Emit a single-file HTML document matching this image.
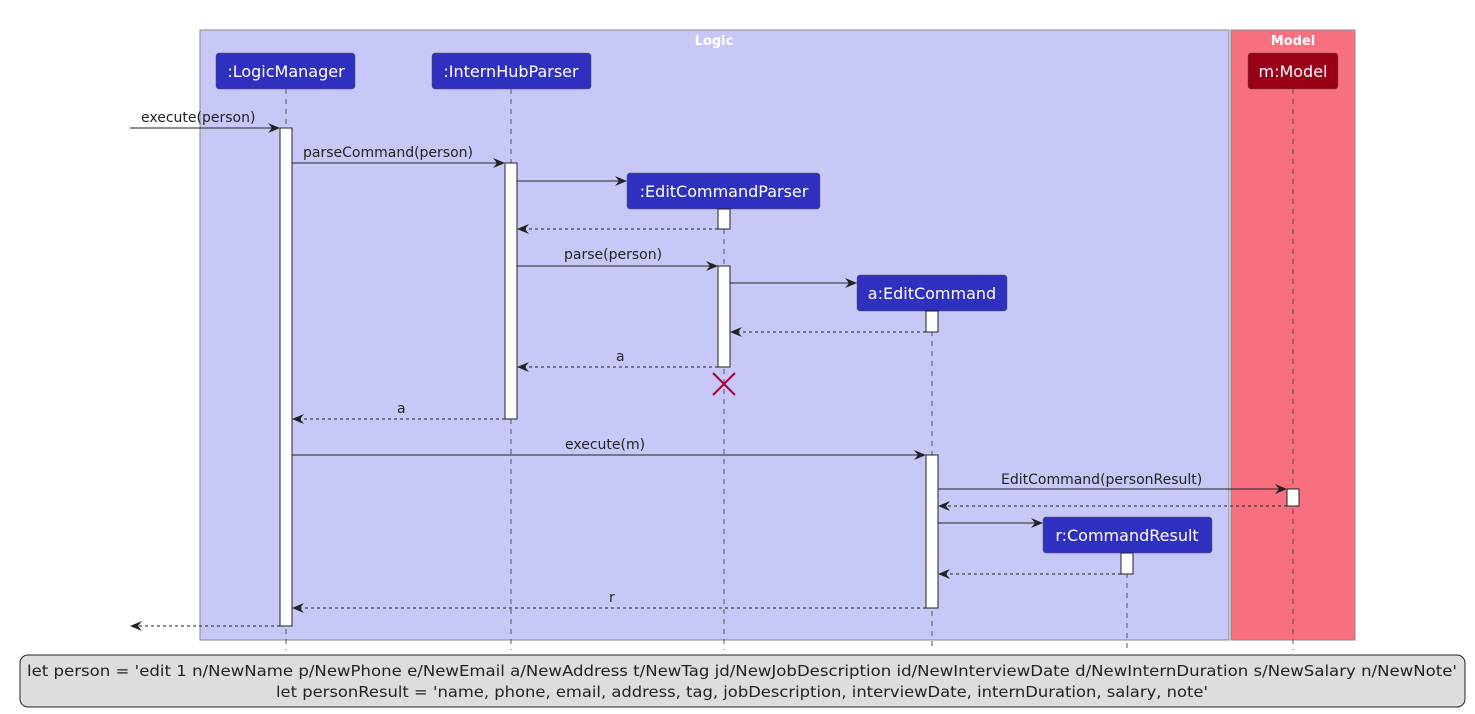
<!DOCTYPE html>
<html><head><meta charset="utf-8"><style>html,body{margin:0;padding:0;background:#fff;}svg{display:block}text{font-family:"DejaVu Sans","Liberation Sans",sans-serif;}</style></head><body>
<svg width="1475" height="714" viewBox="0 0 1475 714" xmlns="http://www.w3.org/2000/svg">
<defs><marker id="a" viewBox="0 0 12 10" refX="11" refY="5" markerWidth="12" markerHeight="10" orient="auto" markerUnits="userSpaceOnUse"><path d="M0,0 L12,5 L0,10 L4,5 Z" fill="#222"/></marker></defs>
<rect x="200" y="30" width="1029" height="610" fill="#C8C8F8" stroke="#888" stroke-width="1"/>
<rect x="1231" y="30" width="124" height="610" fill="#F87080" stroke="#888" stroke-width="1"/>
<text x="714" y="45" font-size="13" font-weight="bold" fill="#fff" text-anchor="middle">Logic</text>
<text x="1293" y="45" font-size="13" font-weight="bold" fill="#fff" text-anchor="middle">Model</text>
<g stroke="#555" stroke-dasharray="5,5" stroke-width="1">
<line x1="286" y1="89" x2="286" y2="650"/><line x1="511" y1="89" x2="511" y2="650"/>
<line x1="724" y1="209" x2="724" y2="650"/><line x1="932" y1="311" x2="932" y2="650"/>
<line x1="1127" y1="553" x2="1127" y2="650"/><line x1="1293" y1="89" x2="1293" y2="650"/>
</g>
<g font-size="16" fill="#fff" text-anchor="middle">
<rect x="216" y="53" width="139" height="36" rx="3" fill="#3030C0" stroke="#555" stroke-width="0.5"/><text x="286" y="77">:LogicManager</text>
<rect x="432" y="53" width="159" height="36" rx="3" fill="#3030C0" stroke="#555" stroke-width="0.5"/><text x="511" y="77">:InternHubParser</text>
<rect x="627" y="173" width="193" height="36" rx="3" fill="#3030C0" stroke="#555" stroke-width="0.5"/><text x="724" y="197">:EditCommandParser</text>
<rect x="857" y="275" width="150" height="36" rx="3" fill="#3030C0" stroke="#555" stroke-width="0.5"/><text x="932" y="299">a:EditCommand</text>
<rect x="1043" y="517" width="169" height="36" rx="3" fill="#3030C0" stroke="#555" stroke-width="0.5"/><text x="1127" y="541">r:CommandResult</text>
<rect x="1248" y="53" width="90" height="36" rx="3" fill="#990018" stroke="#555" stroke-width="0.5"/><text x="1293" y="77">m:Model</text>
</g>
<g fill="#fff" stroke="#222" stroke-width="1">
<rect x="280" y="128" width="12" height="498"/>
<rect x="505" y="163" width="12" height="256"/>
<rect x="718" y="209" width="12" height="20"/>
<rect x="718" y="266" width="12" height="101"/>
<rect x="926" y="311" width="12" height="21"/>
<rect x="926" y="455" width="12" height="153"/>
<rect x="1287" y="489" width="12" height="17"/>
<rect x="1121" y="553" width="12" height="21"/>
</g>
<g stroke="#222" stroke-width="1" marker-end="url(#a)">
<line x1="130" y1="128" x2="279" y2="128"/>
<line x1="292" y1="163" x2="504" y2="163"/>
<line x1="517" y1="181" x2="626" y2="181"/>
<line x1="517" y1="266" x2="717" y2="266"/>
<line x1="730" y1="283" x2="856" y2="283"/>
<line x1="292" y1="455" x2="925" y2="455"/>
<line x1="938" y1="489" x2="1286" y2="489"/>
<line x1="938" y1="523" x2="1042" y2="523"/>
</g>
<g stroke="#222" stroke-width="1" stroke-dasharray="3,3" marker-end="url(#a)">
<line x1="718" y1="229" x2="518" y2="229"/>
<line x1="926" y1="332" x2="731" y2="332"/>
<line x1="718" y1="367" x2="518" y2="367"/>
<line x1="505" y1="419" x2="293" y2="419"/>
<line x1="1287" y1="506" x2="939" y2="506"/>
<line x1="1121" y1="574" x2="939" y2="574"/>
<line x1="926" y1="608" x2="293" y2="608"/>
<line x1="280" y1="626" x2="131" y2="626"/>
</g>
<g stroke="#A80036" stroke-width="2"><line x1="713" y1="373" x2="735" y2="395"/><line x1="735" y1="373" x2="713" y2="395"/></g>
<g font-size="14" fill="#222">
<text x="141" y="122">execute(person)</text>
<text x="303" y="157">parseCommand(person)</text>
<text x="564" y="259">parse(person)</text>
<text x="616" y="361">a</text>
<text x="397" y="413">a</text>
<text x="565" y="449">execute(m)</text>
<text x="1001" y="484">EditCommand(personResult)</text>
<text x="609" y="602">r</text>
</g>
<rect x="20" y="655" width="1445" height="52" rx="8" fill="#DDDDDD" stroke="#222" stroke-width="1"/>
<g font-size="15" fill="#222" text-anchor="middle">
<text x="742" y="676" textLength="1430" lengthAdjust="spacingAndGlyphs">let person = 'edit 1 n/NewName p/NewPhone e/NewEmail a/NewAddress t/NewTag jd/NewJobDescription id/NewInterviewDate d/NewInternDuration s/NewSalary n/NewNote'</text>
<text x="742" y="697" textLength="932" lengthAdjust="spacingAndGlyphs">let personResult = 'name, phone, email, address, tag, jobDescription, interviewDate, internDuration, salary, note'</text>
</g>
</svg>
</body></html>
